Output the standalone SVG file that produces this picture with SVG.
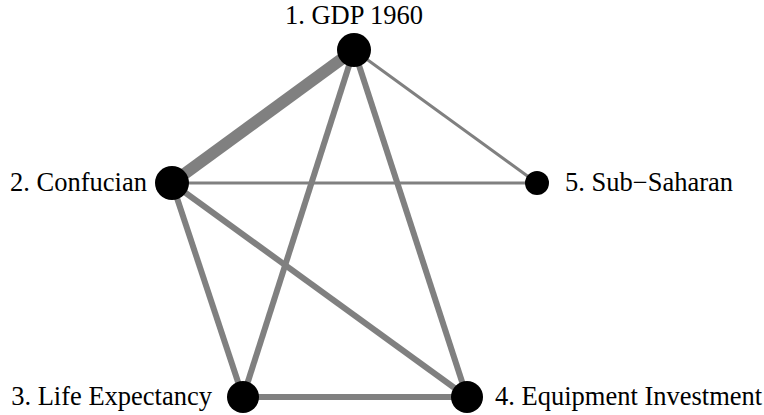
<svg xmlns="http://www.w3.org/2000/svg" width="764" height="415" viewBox="0 0 764 415">
<style>
.e{stroke:#808080;stroke-linecap:butt;fill:none}
.n{fill:#000}
text{font-family:"Liberation Serif","Times New Roman",serif;font-size:26.5px;fill:#000}
</style>
<rect width="764" height="415" fill="#fff"/>
<g id="edges">
<line class="e" x1="354" y1="50" x2="172" y2="183" stroke-width="12"/>
<line class="e" x1="354" y1="50" x2="243" y2="397" stroke-width="6"/>
<line class="e" x1="354" y1="50" x2="467" y2="397" stroke-width="6"/>
<line class="e" x1="354" y1="50" x2="537" y2="183" stroke-width="3"/>
<line class="e" x1="172" y1="183" x2="537" y2="183" stroke-width="3"/>
<line class="e" x1="172" y1="183" x2="243" y2="397" stroke-width="6"/>
<line class="e" x1="172" y1="183" x2="467" y2="397" stroke-width="6"/>
<line class="e" x1="243" y1="397" x2="467" y2="397" stroke-width="6"/>
</g>
<g id="n1"><circle class="n" cx="354" cy="50" r="17"/><text x="354" y="24" text-anchor="middle">1. GDP 1960</text></g>
<g id="n2"><circle class="n" cx="172" cy="183" r="17"/><text x="147" y="191" text-anchor="end">2. Confucian</text></g>
<g id="n3"><circle class="n" cx="243" cy="397" r="16"/><text x="212" y="405" text-anchor="end">3. Life Expectancy</text></g>
<g id="n4"><circle class="n" cx="467" cy="397" r="16"/><text x="495" y="405">4. Equipment Investment</text></g>
<g id="n5"><circle class="n" cx="537" cy="183" r="12"/><text x="565" y="191">5. Sub−Saharan</text></g>
</svg>
